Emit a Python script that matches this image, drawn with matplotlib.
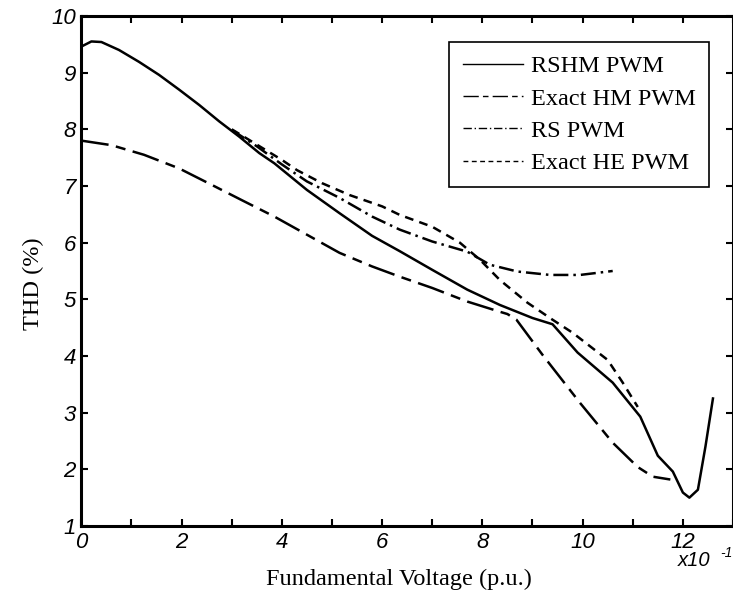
import matplotlib
matplotlib.use('Agg')
import matplotlib.pyplot as plt
from matplotlib.ticker import MultipleLocator

# data (x in units of 0.1 p.u.)
rshm_x = [0, 0.2, 0.4, 0.75, 1.15, 1.55, 1.95, 2.35, 2.75, 3.15, 3.55, 3.85, 4.5, 5.15, 5.8,
          6.35, 7.0, 7.7, 8.35, 9.0, 9.4, 9.9, 10.6, 11.15, 11.5, 11.8, 12.0, 12.13, 12.3, 12.45, 12.6]
rshm_y = [9.46, 9.55, 9.54, 9.40, 9.19, 8.96, 8.70, 8.43, 8.14, 7.87, 7.58, 7.40, 6.93, 6.52, 6.12,
          5.85, 5.52, 5.17, 4.90, 4.67, 4.56, 4.06, 3.53, 2.93, 2.24, 1.96, 1.59, 1.50, 1.64, 2.40, 3.25]

hm_x = [0, 0.6, 1.25, 1.95, 2.6, 3.2, 3.85, 4.5, 5.15, 5.8, 6.35, 7.0, 7.7, 8.35, 8.5,
        8.68, 9.2, 9.95, 10.6, 11.1, 11.4, 11.75]
hm_y = [7.80, 7.72, 7.55, 7.31, 7.02, 6.75, 6.46, 6.14, 5.82, 5.58, 5.40, 5.20, 4.96, 4.78, 4.74,
        4.64, 4.02, 3.17, 2.47, 2.04, 1.87, 1.82]

rs_x = [3.0, 3.5, 4.0, 4.5, 5.15, 5.8, 6.35, 7.0, 7.7, 8.15, 8.7, 9.35, 9.95, 10.6]
rs_y = [7.99, 7.70, 7.38, 7.08, 6.79, 6.46, 6.23, 6.02, 5.84, 5.61, 5.49, 5.43, 5.43, 5.50]

he_x = [3.0, 3.5, 4.0, 4.3, 4.8, 5.35, 6.0, 6.35, 7.0, 7.55, 7.95, 8.35, 8.9, 9.4, 9.8,
        10.5, 10.8, 11.1]
he_y = [8.00, 7.73, 7.46, 7.28, 7.05, 6.84, 6.64, 6.49, 6.28, 6.00, 5.70, 5.34, 4.94, 4.64, 4.41,
        3.93, 3.53, 3.10]

labels = ['RSHM PWM', 'Exact HM PWM', 'RS PWM', 'Exact HE PWM']

sans = ['Liberation Sans', 'DejaVu Sans']
serif = ['Liberation Serif', 'DejaVu Serif']

fig = plt.figure(figsize=(7.33, 5.91), dpi=100)
ax = fig.add_axes([0.111, 0.11, 0.889, 0.863])

lw = 1.8
ax.plot(rshm_x, rshm_y, color='black', lw=lw, label=labels[0])
ax.plot(hm_x, hm_y, color='black', lw=lw, linestyle=(0, (11, 3, 4, 3)), label=labels[1])
ax.plot(rs_x, rs_y, color='black', lw=lw, linestyle=(0, (6, 2, 1, 2)), label=labels[2])
ax.plot(he_x, he_y, color='black', lw=lw, linestyle=(0, (3.5, 2.5)), label=labels[3])

ax.set_xlim(0, 13)
ax.set_ylim(1, 10)
ax.xaxis.set_major_locator(MultipleLocator(2))
ax.xaxis.set_minor_locator(MultipleLocator(1))
ax.yaxis.set_major_locator(MultipleLocator(1))

ax.tick_params(which='both', direction='in', top=True, right=True, width=1.5, length=5)
ax.tick_params(axis='x', pad=4)
ax.tick_params(axis='y', pad=4)
for lab in ax.get_xticklabels() + ax.get_yticklabels():
    lab.set_fontfamily(sans)
    lab.set_fontstyle('italic')
    lab.set_fontsize(16)

for side in ['left', 'top', 'bottom', 'right']:
    ax.spines[side].set_linewidth(2.2)

ax.set_xlabel('Fundamental Voltage (p.u.)', family=serif, fontsize=17.5)
ax.set_ylabel('THD (%)', family=serif, fontsize=17.5)
ax.xaxis.set_label_coords(0.487, -0.083)
ax.yaxis.set_label_coords(-0.058, 0.476)

# multiplier text under the last tick label
fig.text(0.925, 0.042, 'x10', family=sans, style='italic', fontsize=14.5)
fig.text(0.983, 0.058, '-1', family=sans, style='italic', fontsize=10)

leg = ax.legend(loc='upper right', bbox_to_anchor=(0.963, 0.949), borderaxespad=0,
                prop={'family': serif, 'size': 17.5}, handlelength=2.5, handletextpad=0.3,
                labelspacing=0.42, borderpad=0.55, fancybox=False, edgecolor='black',
                framealpha=1)
leg.get_frame().set_linewidth(1.2)
for line in leg.get_lines():
    line.set_linewidth(1.0)

plt.savefig('out.png', dpi=100)
